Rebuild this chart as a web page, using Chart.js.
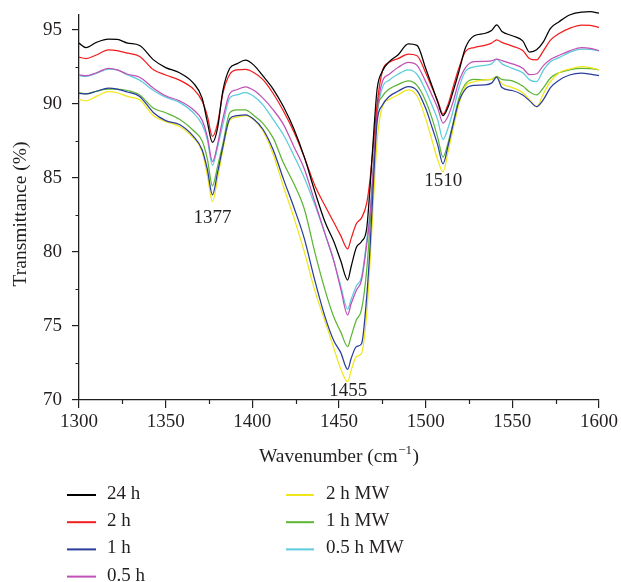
<!DOCTYPE html>
<html>
<head>
<meta charset="utf-8">
<script src="https://cdn.jsdelivr.net/npm/chart.js@4.4.0/dist/chart.umd.min.js"></script>
<style>
  html, body { margin: 0; padding: 0; background: #ffffff; }
  #wrap { width: 621px; height: 582px; }
</style>
</head>
<body>
<div id="wrap"><canvas id="c" width="621" height="582"></canvas></div>
<script>
// FTIR spectra, transmittance (%) against wavenumber (cm^-1)
const wavenumbers = [1300,1304,1310,1317,1322,1328,1335,1343,1350,1358,
  1366,1371,1374,1377,1380,1383,1387,1391,1396,1401,
  1406,1412,1418,1424,1430,1436,1442,1447,1451,1455,
  1457,1460,1463,1466,1468,1470,1472,1475,1479,1484,
  1490,1495,1500,1504,1507,1510,1513,1516,1519,1523,
  1528,1534,1538,1541,1544,1550,1556,1560,1564,1568,
  1572,1577,1583,1590,1595,1600];

const t24h = [94.1,93.8,94.15,94.37,94.35,94.1,93.94,92.97,92.45,92.1,
  91.4,90.4,88.8,87.4,88.4,90.9,92.4,92.7,92.95,92.6,
  91.9,91.0,89.8,88.3,86.4,84.1,82.0,80.7,79.4,78.1,
  79.0,80.3,80.7,81.6,84.5,88.0,91.0,92.2,92.85,93.3,
  94.05,93.95,92.4,91.1,90.1,89.2,89.8,90.9,92.1,93.8,
  94.6,94.75,94.95,95.34,94.89,94.6,94.25,93.5,93.65,94.2,
  95.1,95.55,96.0,96.2,96.22,96.12];

const t2h = [93.15,93.06,93.3,93.65,93.6,93.42,93.2,92.3,91.95,91.6,
  91.0,90.2,89.2,87.8,88.7,90.7,92.0,92.3,92.32,92.1,
  91.65,90.7,89.5,88.1,86.4,84.5,83.1,82.0,81.1,80.2,
  80.9,81.9,82.3,83.3,85.0,87.5,90.0,92.2,92.8,93.05,
  93.35,93.25,92.1,91.0,90.2,89.3,90.0,91.2,92.35,93.55,
  93.8,93.95,94.1,94.32,94.15,93.9,93.6,93.05,92.97,93.6,
  94.3,94.75,95.1,95.32,95.3,95.16];

const t1h = [90.7,90.67,90.85,91.06,91.0,90.8,90.5,89.4,88.87,88.6,
  87.8,86.9,85.6,83.85,85.4,87.1,89.0,89.2,89.26,88.95,
  88.3,86.9,84.9,83.0,80.9,78.1,75.6,74.0,73.2,72.07,
  72.8,73.6,73.8,77.0,80.5,85.0,88.8,89.9,90.5,90.85,
  91.17,90.9,89.7,88.3,87.2,85.95,87.2,88.7,90.1,91.0,
  91.25,91.28,91.4,91.8,91.1,90.9,90.6,90.2,89.82,90.3,
  91.1,91.6,91.95,92.07,92.0,91.9];

const t05h = [91.96,91.9,92.1,92.4,92.3,92.0,91.8,91.06,90.55,90.2,
  89.6,88.9,87.8,86.1,87.3,89.0,90.7,90.95,91.15,90.9,
  90.4,89.6,88.6,87.1,85.6,83.4,81.2,79.4,77.5,75.74,
  76.5,77.4,78.1,80.5,82.6,86.0,89.5,91.5,92.0,92.45,
  92.8,92.6,91.5,90.5,89.7,88.7,89.2,90.2,91.45,92.45,
  92.85,92.87,92.9,93.02,92.92,92.7,92.4,91.97,92.03,92.6,
  93.0,93.28,93.58,93.8,93.75,93.6];

const t2hMW = [90.3,90.2,90.5,90.83,90.75,90.5,90.27,89.2,88.8,88.47,
  87.7,86.8,85.2,83.4,85.0,86.9,88.9,89.1,89.2,88.9,
  88.2,86.6,84.4,82.3,80.0,77.4,75.3,73.5,72.1,71.24,
  72.0,72.93,73.15,75.86,79.5,83.7,87.5,89.8,90.3,90.6,
  90.95,90.55,89.0,87.4,86.2,85.4,86.8,88.4,89.9,91.2,
  91.5,91.62,91.65,91.8,91.35,91.1,90.75,90.27,89.8,90.7,
  91.5,92.1,92.35,92.52,92.45,92.3];

const t1hMW = [90.76,90.67,90.85,91.0,91.0,90.9,90.6,89.7,89.4,88.96,
  88.2,87.5,86.3,84.46,85.8,87.3,89.4,89.6,89.6,89.2,
  88.7,87.7,86.0,84.6,82.9,80.0,77.4,75.6,74.6,73.6,
  74.3,75.4,76.1,78.8,82.0,86.0,89.5,90.5,91.0,91.3,
  91.55,91.25,90.2,88.9,87.7,86.4,87.4,88.8,90.3,91.35,
  91.65,91.62,91.65,91.85,91.65,91.55,91.2,90.8,90.6,91.1,
  91.75,92.1,92.3,92.4,92.38,92.3];

const t05hMW = [91.9,91.85,92.05,92.35,92.3,91.95,91.6,90.9,90.45,90.1,
  89.4,88.6,87.6,85.85,87.1,88.6,90.4,90.6,90.75,90.5,
  89.95,88.95,87.9,86.5,85.0,83.2,81.2,79.4,77.7,76.13,
  76.8,77.7,78.3,80.8,82.8,86.0,89.2,91.1,91.6,92.0,
  92.3,92.0,90.9,89.8,88.9,87.6,88.4,89.6,91.0,92.2,
  92.5,92.6,92.7,93.02,92.7,92.4,92.1,91.62,91.5,92.3,
  92.85,93.12,93.48,93.7,93.68,93.58];

const seriesLabels = ['24 h', '2 h', '1 h', '0.5 h', '2 h MW', '1 h MW', '0.5 h MW'];
const seriesValues = [t24h, t2h, t1h, t05h, t2hMW, t1hMW, t05hMW];
const seriesColors = ['#000000', '#f21c1c', '#2a3d9c', '#c050b6', '#f0e61c', '#5cb534', '#5ccbdc'];

const xTickValues = [1300, 1350, 1400, 1450, 1500, 1550, 1600];
const yTickValues = [70, 75, 80, 85, 90, 95];
const peakBands = [1377, 1455, 1510];

const FONT = "'Liberation Serif', 'Times New Roman', serif";
const INK = '#231f20';

const datasets = seriesValues.map((vals, i) => ({
  label: seriesLabels[i],
  data: wavenumbers.map((w, k) => ({ x: w, y: vals[k] })),
  borderColor: seriesColors[i],
  backgroundColor: seriesColors[i],
  borderWidth: 1.25,
  pointRadius: 0,
  fill: false,
  cubicInterpolationMode: 'monotone',
  clip: false
}));

// Axis titles, minor ticks, band labels and the two-column legend
const decor = {
  id: 'decor',
  afterDraw(chart, args, opts) {
    const ctx = chart.ctx;
    const xs = chart.scales.x, ys = chart.scales.y;
    ctx.save();
    ctx.strokeStyle = INK;
    ctx.fillStyle = INK;
    ctx.lineWidth = 1.2;

    // minor ticks
    ctx.beginPath();
    for (let v = 72.5; v < 96; v += 5) {
      const py = Math.round(ys.getPixelForValue(v)) + 0.5;
      ctx.moveTo(xs.left - 3.5, py);
      ctx.lineTo(xs.left, py);
    }
    for (let w = 1325; w < 1600; w += 50) {
      const px = Math.round(xs.getPixelForValue(w)) + 0.5;
      ctx.moveTo(px, ys.bottom);
      ctx.lineTo(px, ys.bottom + 4);
    }
    ctx.stroke();

    // band labels
    ctx.font = '19px ' + FONT;
    ctx.textAlign = 'center';
    ctx.textBaseline = 'middle';
    peakBands.forEach((band, i) => {
      const p = opts.peakLabelAt[i];
      ctx.fillText(String(band), xs.getPixelForValue(p[0]), ys.getPixelForValue(p[1]));
    });

    // y title
    ctx.save();
    ctx.translate(opts.yTitle[0], opts.yTitle[1]);
    ctx.rotate(-Math.PI / 2);
    ctx.font = '19.5px ' + FONT;
    ctx.fillText('Transmittance (%)', 0, 0);
    ctx.restore();

    // x title with superscript
    const base = 'Wavenumber (cm';
    const sup = '\u22121';
    const close = ')';
    ctx.font = '19.5px ' + FONT;
    const wBase = ctx.measureText(base).width;
    const wClose = ctx.measureText(close).width;
    ctx.font = '13px ' + FONT;
    const wSup = ctx.measureText(sup).width;
    let x0 = (xs.left + xs.right) / 2 - (wBase + wSup + 1 + wClose) / 2;
    const ty = opts.xTitleY;
    ctx.textAlign = 'left';
    ctx.textBaseline = 'alphabetic';
    ctx.font = '19.5px ' + FONT;
    ctx.fillText(base, x0, ty);
    ctx.font = '13px ' + FONT;
    ctx.fillText(sup, x0 + wBase + 0.5, ty - 8);
    ctx.font = '19.5px ' + FONT;
    ctx.fillText(close, x0 + wBase + wSup + 1, ty);

    // legend: two columns, column-major order
    const lg = opts.legend;
    ctx.font = '19px ' + FONT;
    ctx.textBaseline = 'middle';
    chart.data.datasets.forEach((ds, i) => {
      const col = i < lg.rows ? 0 : 1;
      const row = i < lg.rows ? i : i - lg.rows;
      const yy = lg.top + row * lg.rowGap;
      const c = lg.cols[col];
      ctx.strokeStyle = ds.borderColor;
      ctx.lineWidth = 2;
      ctx.beginPath();
      ctx.moveTo(c.lineFrom, yy + 1);
      ctx.lineTo(c.lineTo, yy + 1);
      ctx.stroke();
      ctx.fillStyle = INK;
      ctx.fillText(ds.label, c.text, yy);
    });
    ctx.restore();
  }
};

new Chart(document.getElementById('c'), {
  type: 'line',
  data: { datasets },
  options: {
    responsive: false,
    animation: false,
    events: [],
    layout: { padding: { left: 0, right: 22, top: 15, bottom: 0 } },
    plugins: {
      legend: { display: false },
      tooltip: { enabled: false },
      decor: {
        peakLabelAt: [[1377, 82.3], [1455.3, 70.62], [1510.2, 84.8]],
        yTitle: [21, 214],
        xTitleY: 462,
        legend: {
          rows: 4, top: 494, rowGap: 27.2,
          cols: [{ lineFrom: 67, lineTo: 96, text: 107 }, { lineFrom: 286, lineTo: 314, text: 326 }]
        }
      }
    },
    scales: {
      x: {
        type: 'linear',
        min: 1300, max: 1600,
        afterFit(scale) {
          scale.height = 182;
          scale.paddingLeft = 0;
          scale.paddingRight = 0;
        },
        afterBuildTicks(scale) { scale.ticks = xTickValues.map(v => ({ value: v })); },
        ticks: {
          padding: 3, maxRotation: 0, autoSkip: false,
          color: INK, font: { family: FONT, size: 19 },
          callback: v => String(v)
        },
        grid: { drawOnChartArea: false, tickLength: 8, color: INK, lineWidth: 1.2 },
        border: { color: INK, width: 1.3 }
      },
      y: {
        type: 'linear',
        min: 70, max: 96,
        afterFit(scale) {
          scale.width = 79;
          scale.paddingTop = 0;
          scale.paddingBottom = 0;
        },
        afterBuildTicks(scale) { scale.ticks = yTickValues.map(v => ({ value: v })); },
        ticks: {
          padding: 10,
          color: INK, font: { family: FONT, size: 19 },
          callback: v => String(v)
        },
        grid: { drawOnChartArea: false, tickLength: 7, color: INK, lineWidth: 1.2 },
        border: { color: INK, width: 1.3 }
      }
    }
  },
  plugins: [decor]
});
</script>
</body>
</html>
